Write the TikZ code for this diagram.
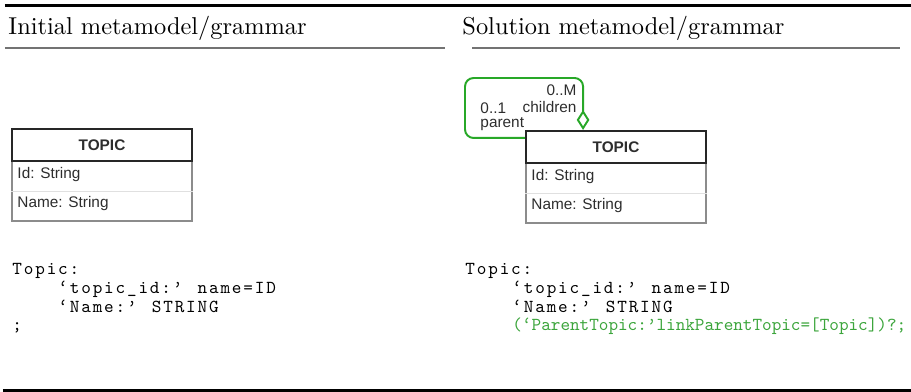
\documentclass[tikz,border=0pt]{standalone}
\usepackage{fontspec}
\usetikzlibrary{arrows.meta}
\newfontfamily\umlfont{Liberation Sans}
\newfontfamily\codefont[LetterSpace=10]{lmmono10-regular.otf}
\newfontfamily\plaincode{lmmono10-regular.otf}
\definecolor{assocgreen}{RGB}{40,168,40}
\definecolor{codegreen}{RGB}{60,165,60}
\definecolor{umltext}{RGB}{45,45,45}
\begin{document}
\begin{tikzpicture}[x=0.41pt,y=-0.41pt,
	heading/.style={anchor=base west,inner sep=0,font=\fontsize{10}{12}\selectfont},
	code/.style={anchor=base west,inner sep=0,font=\fontsize{7.5}{9}\codefont},
	greencode/.style={anchor=base west,inner sep=0,text=codegreen,font=\fontsize{7.5}{9}\plaincode},
	umlhead/.style={draw=black!85,line width=0.9pt,fill=white,minimum width=73.8pt,minimum height=13.1pt,inner sep=0,text=umltext,font=\fontsize{6.3}{7.5}\umlfont\bfseries},
	umlbody/.style={draw=black!45,line width=0.6pt,minimum width=73.8pt,minimum height=24.6pt,inner sep=0},
	umlattr/.style={anchor=west,inner sep=0,text=umltext,font=\fontsize{6.3}{7.5}\umlfont},
	rowline/.style={draw=black!12,line width=0.4pt},
	role/.style={inner sep=0,text=umltext,font=\fontsize{6.3}{7.5}\umlfont},
	assoc/.style={draw=assocgreen,line width=0.8pt,rounded corners=3.5pt,-{Diamond[open,length=8.2pt,width=5.2pt]}},
	boldrule/.style={line width=0.9pt},
	midrule/.style={draw=black!55,line width=0.5pt}]
	\useasboundingbox (0,0) rectangle (911,392);
	\draw[boldrule] (5,5.5) -- (911,5.5);
	\draw[boldrule] (3,390.5) -- (911,390.5);
	\node[heading] (initial) at (8,35) {Initial metamodel/grammar};
	\node[heading] (solution) at (462,35) {Solution metamodel/grammar};
	\draw[midrule] (5,48) -- (445,48);
	\draw[midrule] (472,48) -- (900,48);
	\node[umlbody] (bodyA) at (102,191) {};
	\node[umlhead] (topicA) at (102,145) {TOPIC};
	\draw[rowline] (bodyA.west) -- (bodyA.east);
	\node[umlattr] (idA) at (17,175) {Id: String};
	\node[umlattr] (nameA) at (17,204) {Name: String};
	\node[umlbody] (bodyB) at (616,193) {};
	\node[umlhead] (topicB) at (616,147) {TOPIC};
	\draw[rowline] (bodyB.west) -- (bodyB.east);
	\node[umlattr] (idB) at (531,177) {Id: String};
	\node[umlattr] (nameB) at (531,206) {Name: String};
	\draw[assoc] ([yshift=-3.3pt]topicB.north west) -| (465,78) -| ([xshift=-13.5pt]topicB.north);
	\node[role,anchor=east] (manyB) at (577,90) {0..M};
	\node[role,anchor=east] (childB) at (577,107) {children};
	\node[role,anchor=west] (oneB) at (480,108) {0..1};
	\node[role,anchor=west] (parentB) at (480,124) {parent};
	\node[code] (ruleA) at (12,275) {Topic:};
	\node[code] (idlineA) at (58,293.5) {‘topic\_id:’ name=ID};
	\node[code] (namelineA) at (58,312) {‘Name:’ STRING};
	\node[code] (endA) at (12,330.5) {;};
	\node[code] (ruleB) at (465,275) {Topic:};
	\node[code] (idlineB) at (512,293.5) {‘topic\_id:’ name=ID};
	\node[code] (namelineB) at (512,312) {‘Name:’ STRING};
	\node[greencode] (parentline) at (512,330.5) {(‘ParentTopic:’linkParentTopic=[Topic])?;};
\end{tikzpicture}
\end{document}
